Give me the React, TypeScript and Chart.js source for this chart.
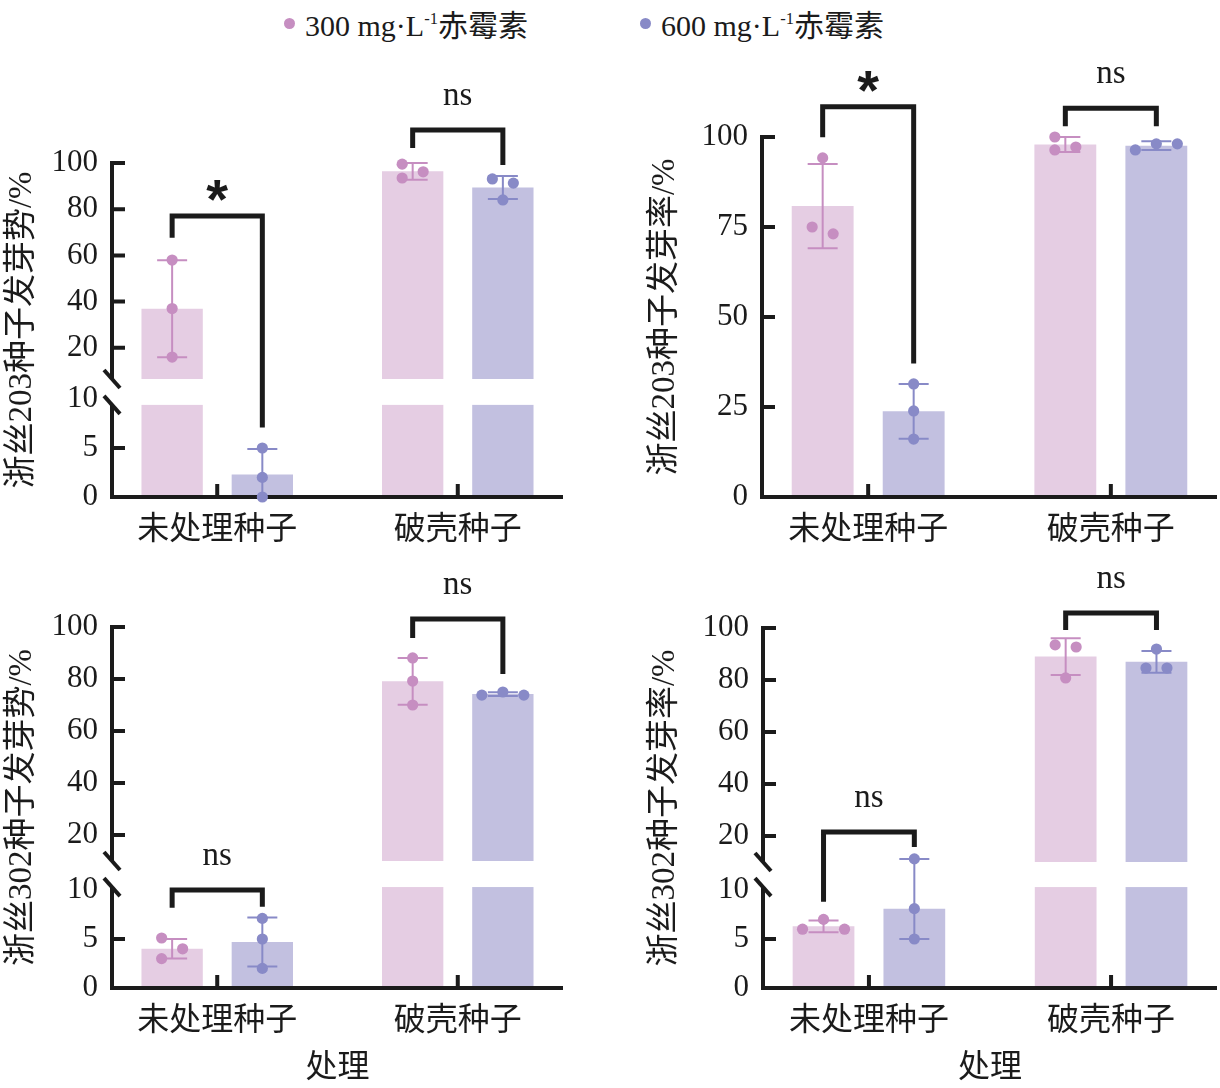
import React, { useEffect, useRef } from 'react';
import { Chart, registerables, LinearScale } from 'chart.js';

Chart.register(...registerables);

// ---------- data ----------
const categories = ['未处理种子', '破壳种子'];
const doses = ['300', '600'];

// Panel A: 浙丝203 germination energy (发芽势)
const a300Mean = [36.9, 96.4];
const a300Sd = [21.0, 3.6];
const a300Reps = [[58.0, 37.0, 16.0], [99.5, 96.2, 93.5]];
const a600Mean = [2.3, 89.4];
const a600Sd = [2.6, 5.0];
const a600Reps = [[5.0, 2.0, 0.0], [93.1, 91.3, 84.0]];
const aSigTop = [77.1, 114.3];
const aSigLeft = [67.6, 106.5];
const aSigRight = [7.1, 99.1];
const aSigText = ['*', 'ns'];

// Panel B: 浙丝203 germination rate (发芽率)
const b300Mean = [80.8, 97.9];
const b300Sd = [11.7, 2.1];
const b300Reps = [[94.2, 73.1, 75.0], [100.0, 97.2, 96.4]];
const b600Mean = [23.8, 97.6];
const b600Sd = [7.6, 1.2];
const b600Reps = [[31.4, 23.9, 16.1], [96.4, 98.1, 98.1]];
const bSigTop = [108.4, 108.0];
const bSigLeft = [99.9, 103.0];
const bSigRight = [37.1, 103.0];
const bSigText = ['*', 'ns'];

// Panel C: 浙丝302 germination energy (发芽势)
const c300Mean = [4.0, 79.1];
const c300Sd = [1.0, 9.0];
const c300Reps = [[5.1, 4.0, 3.0], [88.1, 79.2, 70.0]];
const c600Mean = [4.7, 74.2];
const c600Sd = [2.5, 0.7];
const c600Reps = [[7.1, 5.0, 2.0], [73.8, 75.0, 73.8]];
const cSigTop = [10.0, 103.1];
const cSigLeft = [8.2, 95.8];
const cSigRight = [8.3, 81.9];
const cSigText = ['ns', 'ns'];

// Panel D: 浙丝302 germination rate (发芽率)
const d300Mean = [6.3, 89.0];
const d300Sd = [0.6, 7.1];
const d300Reps = [[7.0, 6.0, 6.0], [93.5, 92.7, 80.8]];
const d600Mean = [8.1, 87.0];
const d600Sd = [3.1, 4.2];
const d600Reps = [[11.2, 8.1, 5.0], [91.9, 84.6, 84.6]];
const dSigTop = [21.5, 105.8];
const dSigLeft = [8.8, 99.2];
const dSigRight = [15.8, 99.2];
const dSigText = ['ns', 'ns'];

const brokenTicks = [0, 5, 10, 20, 40, 60, 80, 100];
const plainTicks = [0, 25, 50, 75, 100];

// ---------- styles ----------
const INK = '#1b1b1b';
const BAR_COLORS = ['#e5cde3', '#c2c0e0'];
const DOT_COLORS = ['#c68ec1', '#888ac7'];
const SERIF = "'Liberation Serif', 'Noto Sans CJK SC', serif";
const CJK = "'Noto Sans CJK SC', sans-serif";

// ---------- broken linear scale ----------
class BrokenLinearScale extends LinearScale {
  static id = 'brokenLinear';
  static defaults = LinearScale.defaults;
  lowerPx(v: number) {
    const b = (this.options as any).brk;
    const h = this.bottom - this.top;
    return this.bottom - ((v - this.min) / (b.lowMax - this.min)) * b.lowFrac * h;
  }
  upperPx(v: number) {
    const b = (this.options as any).brk;
    const h = this.bottom - this.top;
    const base = this.bottom - b.highFrac * h;
    return base - ((v - b.highMin) / (this.max - b.highMin)) * (base - this.top);
  }
  getPixelForValue(value: number) {
    if (value === null || value === undefined || isNaN(value as number)) return NaN;
    const b = (this.options as any).brk;
    return value <= b.lowMax ? this.lowerPx(value) : this.upperPx(value);
  }
  getValueForPixel(pixel: number) {
    const b = (this.options as any).brk;
    const h = this.bottom - this.top;
    const lowTop = this.bottom - b.lowFrac * h;
    if (pixel >= lowTop) {
      return this.min + ((this.bottom - pixel) / (b.lowFrac * h)) * (b.lowMax - this.min);
    }
    const base = this.bottom - b.highFrac * h;
    return b.highMin + ((base - pixel) / (base - this.top)) * (this.max - b.highMin);
  }
}
Chart.register(BrokenLinearScale as any);

type Series = { mean: number[]; sd: number[]; reps: number[][] };
type Panel = {
  key: string;
  box: { left: number; top: number; width: number; height: number };
  area: { left: number; top: number; right: number; xAxisH: number; titlePad: number };
  yTitle: string;
  xTitle: string | null;
  ticks: number[];
  brk: null | { lowMax: number; lowFrac: number; highMin: number; highFrac: number; lowEnd: number };
  series: Series[];
  sig: { top: number[]; left: number[]; right: number[]; text: string[] };
};

const panels: Panel[] = [
  {
    key: 'a',
    box: { left: 0, top: 50, width: 600, height: 510 },
    area: { left: 112, top: 113, right: 37, xAxisH: 63, titlePad: 3 },
    yTitle: '浙丝203种子发芽势/%',
    xTitle: null,
    ticks: brokenTicks,
    brk: { lowMax: 10, lowFrac: 0.2934, highMin: 6.5, highFrac: 0.3533, lowEnd: 9.4 },
    series: [
      { mean: a300Mean, sd: a300Sd, reps: a300Reps },
      { mean: a600Mean, sd: a600Sd, reps: a600Reps },
    ],
    sig: { top: aSigTop, left: aSigLeft, right: aSigRight, text: aSigText },
  },
  {
    key: 'b',
    box: { left: 640, top: 50, width: 580, height: 510 },
    area: { left: 122, top: 87, right: 3, xAxisH: 63, titlePad: 6 },
    yTitle: '浙丝203种子发芽率/%',
    xTitle: null,
    ticks: plainTicks,
    brk: null,
    series: [
      { mean: b300Mean, sd: b300Sd, reps: b300Reps },
      { mean: b600Mean, sd: b600Sd, reps: b600Reps },
    ],
    sig: { top: bSigTop, left: bSigLeft, right: bSigRight, text: bSigText },
  },
  {
    key: 'c',
    box: { left: 0, top: 560, width: 600, height: 528 },
    area: { left: 112, top: 67, right: 37, xAxisH: 100, titlePad: 3 },
    yTitle: '浙丝302种子发芽势/%',
    xTitle: '处理',
    ticks: brokenTicks,
    brk: { lowMax: 10, lowFrac: 0.2715, highMin: 10, highFrac: 0.3518, lowEnd: 10.3 },
    series: [
      { mean: c300Mean, sd: c300Sd, reps: c300Reps },
      { mean: c600Mean, sd: c600Sd, reps: c600Reps },
    ],
    sig: { top: cSigTop, left: cSigLeft, right: cSigRight, text: cSigText },
  },
  {
    key: 'd',
    box: { left: 640, top: 560, width: 580, height: 528 },
    area: { left: 123, top: 68, right: 3, xAxisH: 100, titlePad: 6 },
    yTitle: '浙丝302种子发芽率/%',
    xTitle: '处理',
    ticks: brokenTicks,
    brk: { lowMax: 10, lowFrac: 0.2722, highMin: 10, highFrac: 0.35, lowEnd: 10.3 },
    series: [
      { mean: d300Mean, sd: d300Sd, reps: d300Reps },
      { mean: d600Mean, sd: d600Sd, reps: d600Reps },
    ],
    sig: { top: dSigTop, left: dSigLeft, right: dSigRight, text: dSigText },
  },
];

// Prism-like scatter spreading (pixel space): dots closer than T vertically
// must be at least S apart horizontally; each colliding cluster is centred.
function swarm(ys: number[], T: number, S: number): number[] {
  const n = ys.length;
  const order = ys.map((_, i) => i).sort((a, b) => ys[a] - ys[b]);
  const xs = new Array(n).fill(0);
  const placed: number[] = [];
  const collides = (x: number, y: number) =>
    placed.some((j) => Math.abs(ys[j] - y) < T && Math.abs(xs[j] - x) < S - 0.01);
  for (const i of order) {
    const y = ys[i];
    const cands = [0];
    placed.forEach((j) => {
      if (Math.abs(ys[j] - y) < T) cands.push(xs[j] + S, xs[j] - S);
    });
    cands.sort((a, b) => Math.abs(a) - Math.abs(b) || b - a);
    const ok = cands.find((c) => !collides(c, y));
    xs[i] = ok === undefined ? 0 : ok;
    placed.push(i);
  }
  // clusters via union-find
  const parent = ys.map((_, i) => i);
  const find = (a: number): number => (parent[a] === a ? a : (parent[a] = find(parent[a])));
  for (let a = 0; a < n; a++)
    for (let b = a + 1; b < n; b++) if (Math.abs(ys[a] - ys[b]) < T) parent[find(a)] = find(b);
  const groups: Record<number, number[]> = {};
  ys.forEach((_, i) => {
    const r = find(i);
    (groups[r] = groups[r] || []).push(i);
  });
  Object.values(groups).forEach((g) => {
    const gx = g.map((i) => xs[i]);
    const mid = (Math.min(...gx) + Math.max(...gx)) / 2;
    g.forEach((i) => (xs[i] -= mid));
  });
  return xs;
}

function makeOverlay(p: Panel) {
  return {
    id: 'overlay-' + p.key,
    afterDatasetsDraw(chart: any) {
      const ctx: CanvasRenderingContext2D = chart.ctx;
      const ca = chart.chartArea;
      const ys: any = chart.scales.y;
      const xs: any = chart.scales.x;
      const brk = p.brk;
      ctx.save();
      // gap mask
      if (brk) {
        const yTop = ys.upperPx(brk.highMin);
        const yBot = ys.lowerPx(brk.lowEnd);
        ctx.fillStyle = '#ffffff';
        ctx.fillRect(ca.left, yTop, ca.right - ca.left + 4, yBot - yTop);
      }
      // axes
      const ax = ca.left;
      const bottom = ca.bottom;
      ctx.strokeStyle = INK;
      ctx.lineWidth = 4;
      ctx.lineCap = 'butt';
      ctx.beginPath();
      if (brk) {
        ctx.moveTo(ax, ca.top - 2);
        ctx.lineTo(ax, ys.upperPx(brk.highMin));
        ctx.moveTo(ax, ys.lowerPx(brk.lowEnd));
        ctx.lineTo(ax, bottom + 2);
      } else {
        ctx.moveTo(ax, ca.top - 2);
        ctx.lineTo(ax, bottom + 2);
      }
      ctx.moveTo(ax - 2, bottom);
      ctx.lineTo(ca.right, bottom);
      p.ticks.forEach((v) => {
        if (v === 0) return;
        if (brk && v === brk.lowMax) return;
        const py = ys.getPixelForValue(v);
        ctx.moveTo(ax, py);
        ctx.lineTo(ax + 13, py);
      });
      categories.forEach((_, i) => {
        const px = xs.getPixelForValue(i);
        ctx.moveTo(px, bottom);
        ctx.lineTo(px, bottom - 13);
      });
      ctx.stroke();
      if (brk) {
        [ys.upperPx(brk.highMin), ys.lowerPx(brk.lowEnd)].forEach((cy: number) => {
          ctx.beginPath();
          ctx.moveTo(ax - 8, cy - 9);
          ctx.lineTo(ax + 8, cy + 9);
          ctx.stroke();
        });
      }
      // error bars and replicate dots
      p.series.forEach((s, di) => {
        const meta = chart.getDatasetMeta(di);
        s.mean.forEach((m, i) => {
          const cx = meta.data[i].x;
          const hi = m + s.sd[i];
          const loRaw = m - s.sd[i];
          const lo = Math.max(0, loRaw);
          const yHi = ys.getPixelForValue(hi);
          const yLo = ys.getPixelForValue(lo);
          ctx.strokeStyle = DOT_COLORS[di];
          ctx.lineWidth = 2;
          ctx.beginPath();
          ctx.moveTo(cx, yHi);
          ctx.lineTo(cx, yLo);
          ctx.moveTo(cx - 15, yHi);
          ctx.lineTo(cx + 15, yHi);
          if (loRaw > 0) {
            ctx.moveTo(cx - 15, yLo);
            ctx.lineTo(cx + 15, yLo);
          }
          ctx.stroke();
          const pys = s.reps[i].map((v) => ys.getPixelForValue(v));
          const offs = swarm(pys, 11, 21);
          ctx.fillStyle = DOT_COLORS[di];
          pys.forEach((py, k) => {
            ctx.beginPath();
            ctx.arc(cx + offs[k], py, 5.6, 0, Math.PI * 2);
            ctx.fill();
          });
        });
      });
      // significance brackets
      const m0 = chart.getDatasetMeta(0);
      const m1 = chart.getDatasetMeta(1);
      p.sig.top.forEach((tv, i) => {
        const xl = m0.data[i].x;
        const xr = m1.data[i].x;
        const yt = ys.getPixelForValue(tv);
        const yl = ys.getPixelForValue(p.sig.left[i]);
        const yr = ys.getPixelForValue(p.sig.right[i]);
        ctx.strokeStyle = INK;
        ctx.lineWidth = 5;
        ctx.lineJoin = 'miter';
        ctx.lineCap = 'butt';
        ctx.beginPath();
        ctx.moveTo(xl, yl);
        ctx.lineTo(xl, yt);
        ctx.lineTo(xr, yt);
        ctx.lineTo(xr, yr);
        ctx.stroke();
        const txt = p.sig.text[i];
        const cxm = (xl + xr) / 2;
        ctx.fillStyle = INK;
        ctx.textAlign = 'center';
        ctx.textBaseline = 'alphabetic';
        let center: number;
        if (txt === '*') {
          ctx.font = "bold 56px 'Liberation Sans', sans-serif";
          center = yt - 25;
        } else {
          ctx.font = "33px 'Liberation Serif', serif";
          center = yt - 33;
        }
        const mt = ctx.measureText(txt);
        const asc = mt.actualBoundingBoxAscent;
        const desc = mt.actualBoundingBoxDescent;
        ctx.fillText(txt, cxm, center + (asc - desc) / 2);
      });
      ctx.restore();
    },
  };
}

function PanelChart({ p }: { p: Panel }) {
  const ref = useRef<HTMLCanvasElement | null>(null);
  useEffect(() => {
    if (!ref.current) return;
    const chart = new Chart(ref.current, {
      type: 'bar',
      data: {
        datasets: p.series.map((s, di) => ({
          label: doses[di],
          data: s.mean.map((m, i) => ({ x: i, y: m })),
          backgroundColor: BAR_COLORS[di],
          borderWidth: 0,
          barPercentage: 0.68,
          categoryPercentage: 0.75,
        })),
      },
      options: {
        animation: false,
        responsive: false,
        devicePixelRatio: 1,
        events: [],
        layout: { padding: { top: p.area.top, right: p.area.right, left: 0, bottom: 0 } },
        plugins: { legend: { display: false }, tooltip: { enabled: false } },
        scales: {
          x: {
            type: 'linear',
            min: -0.4375,
            max: 1.4375,
            offset: false,
            bounds: 'data',
            grid: { display: false, drawTicks: false, offset: false },
            border: { display: false },
            afterBuildTicks: (s: any) => {
              s.ticks = categories.map((_, i) => ({ value: i }));
            },
            afterFit: (s: any) => {
              s.height = p.area.xAxisH;
            },
            ticks: {
              callback: (_v: any, i: number) => categories[i],
              font: { family: CJK, size: 32 },
              color: INK,
              padding: 11,
              maxRotation: 0,
              autoSkip: false,
            },
            title: p.xTitle
              ? {
                  display: true,
                  text: p.xTitle,
                  font: { family: CJK, size: 32 },
                  color: INK,
                  padding: { top: 0, bottom: 4 },
                }
              : { display: false },
          },
          y: {
            type: p.brk ? 'brokenLinear' : 'linear',
            min: 0,
            max: 100,
            brk: p.brk,
            grid: { display: false, drawTicks: false },
            border: { display: false },
            afterBuildTicks: (s: any) => {
              s.ticks = p.ticks.map((v) => ({ value: v }));
            },
            afterFit: (s: any) => {
              s.width = p.area.left;
            },
            ticks: {
              callback: (v: any) => String(v),
              font: { family: SERIF, size: 31 },
              color: INK,
              padding: 14,
              autoSkip: false,
            },
            title: {
              display: true,
              text: p.yTitle,
              font: { family: SERIF, size: 33 },
              color: INK,
              padding: { top: p.area.titlePad, bottom: 0 },
            },
          },
        } as any,
      },
      plugins: [makeOverlay(p)],
    } as any);
    return () => chart.destroy();
  }, [p]);
  return (
    <canvas
      ref={ref}
      width={p.box.width}
      height={p.box.height}
      style={{
        position: 'absolute',
        left: p.box.left,
        top: p.box.top,
        width: p.box.width,
        height: p.box.height,
      }}
    />
  );
}

function Legend() {
  const starts = [284, 640];
  return (
    <>
      {doses.map((d, i) => (
        <div
          key={d}
          style={{
            position: 'absolute',
            left: starts[i],
            top: 3,
            height: 40,
            display: 'flex',
            alignItems: 'center',
            fontFamily: SERIF,
            fontSize: 30,
            color: INK,
            whiteSpace: 'nowrap',
          }}
        >
          <span
            style={{
              display: 'inline-block',
              width: 11,
              height: 11,
              borderRadius: '50%',
              background: DOT_COLORS[i],
              marginRight: 10,
            }}
          />
          <span>
            {d} mg·L
            <sup style={{ fontSize: '0.55em', verticalAlign: '0.7em', lineHeight: 0 }}>-1</sup>
            赤霉素
          </span>
        </div>
      ))}
    </>
  );
}

export default function App() {
  return (
    <div
      style={{
        position: 'absolute',
        left: 0,
        top: 0,
        width: 1220,
        height: 1088,
        background: '#ffffff',
        overflow: 'hidden',
      }}
    >
      <Legend />
      {panels.map((p) => (
        <PanelChart key={p.key} p={p} />
      ))}
    </div>
  );
}
